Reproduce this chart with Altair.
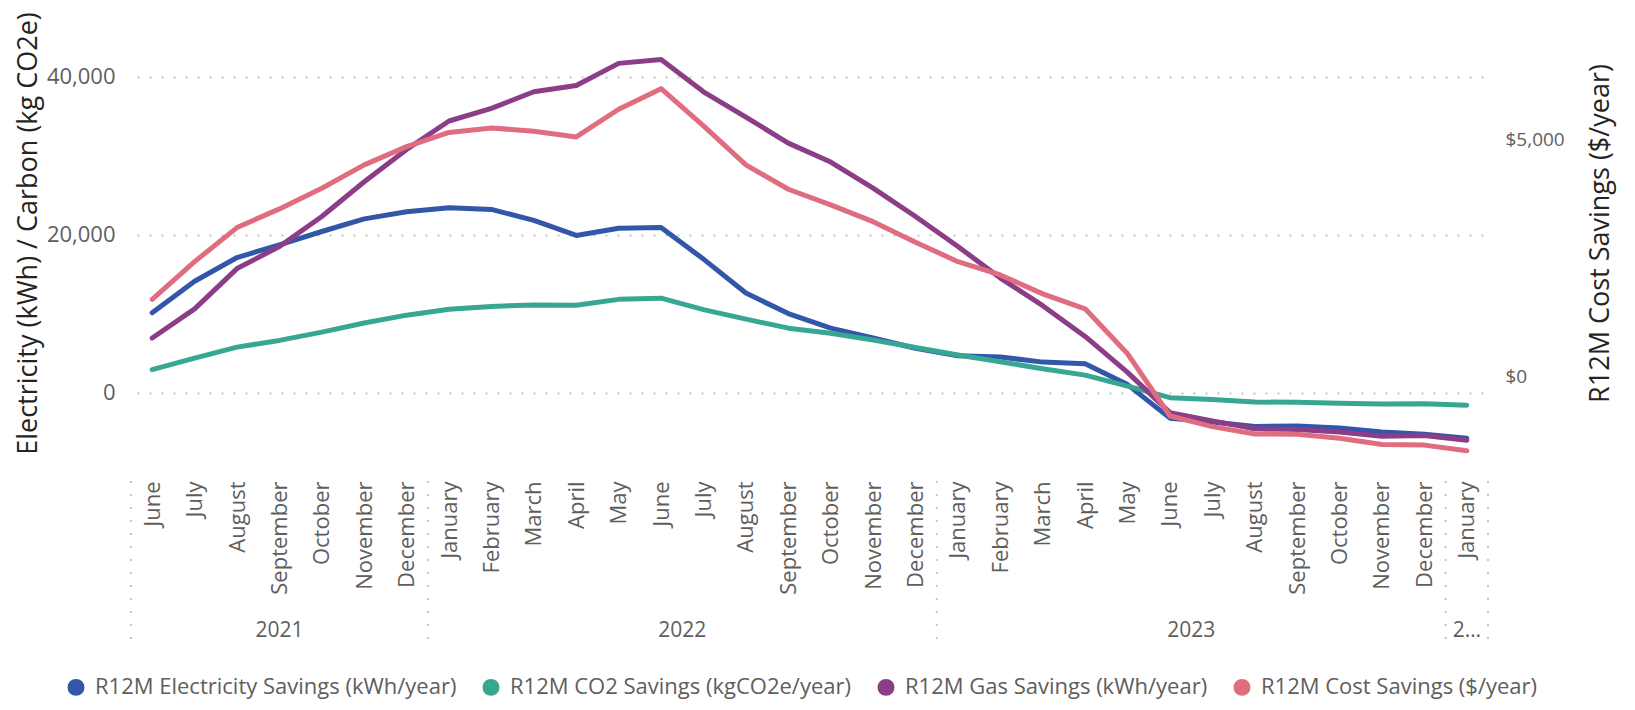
import json
import altair as alt
import pandas as pd

# ---------------- data ----------------
months = ["June", "July", "August", "September", "October", "November", "December",
          "January", "February", "March", "April", "May", "June", "July", "August",
          "September", "October", "November", "December",
          "January", "February", "March", "April", "May", "June", "July", "August",
          "September", "October", "November", "December",
          "January"]
years = ["2021"] * 7 + ["2022"] * 12 + ["2023"] * 12 + ["2024"]
year_labels = {"2021": "2021", "2022": "2022", "2023": "2023", "2024": "2…"}

series_names = ["R12M Electricity Savings (kWh/year)",
                "R12M CO2 Savings (kgCO2e/year)",
                "R12M Gas Savings (kWh/year)",
                "R12M Cost Savings ($/year)"]
series_colors = ["#3257A8", "#37A794", "#8B3D88", "#E06C80"]

electricity = [10100, 14100, 17100, 18700, 20400, 22000, 22900, 23400, 23200, 21800,
               19900, 20800, 20900, 16900, 12600, 10000, 8150, 6900, 5600, 4650,
               4500, 3850, 3650, 1000, -3250, -3750, -4300, -4250, -4500, -5000,
               -5300, -5800]
co2 = [2900, 4350, 5750, 6600, 7650, 8800, 9800, 10550, 10900, 11100,
       11050, 11800, 11950, 10500, 9300, 8150, 7500, 6650, 5700, 4750,
       3900, 3000, 2200, 800, -650, -900, -1200, -1250, -1350, -1450,
       -1430, -1600]
gas = [6900, 10600, 15700, 18500, 22300, 26700, 30800, 34400, 36000, 38100,
       38900, 41700, 42200, 38100, 34900, 31600, 29200, 25900, 22300, 18500,
       14500, 11000, 7100, 2550, -2550, -3600, -4600, -4700, -5000, -5550,
       -5450, -6050]
cost = [1635, 2430, 3150, 3545, 3980, 4475, 4860, 5160, 5255, 5185,
        5065, 5650, 6085, 5300, 4475, 3960, 3630, 3275, 2840, 2430,
        2150, 1750, 1435, 485, -830, -1055, -1210, -1215, -1300, -1430,
        -1445, -1565]

left_ticks = [0, 20000, 40000]
right_ticks = [0, 5000]

# ---------------- tables ----------------
n = len(months)
left_rows = []
for name, vals in zip(series_names[:3], [electricity, co2, gas]):
    for i, v in enumerate(vals):
        left_rows.append({"idx": i, "series": name, "value": v})
left_df = pd.DataFrame(left_rows)
cost_df = pd.DataFrame({"idx": list(range(n)), "series": series_names[3], "cost": cost})
month_df = pd.DataFrame({"idx": list(range(n)), "ylabel": [year_labels[y] for y in years]})
seps = [-0.5] + [i - 0.5 for i in range(1, n) if years[i] != years[i - 1]] + [n - 0.5]
sep_df = pd.DataFrame({"pos": seps})

FONT = "Open Sans"
LABEL_C = "#605E5C"
TITLE_C = "#252423"
GRID_C = "#C8C6C4"
LW = 5

x_scale = alt.Scale(domain=[-0.5, n - 0.5], nice=False, zero=False)
color_scale = alt.Scale(domain=series_names, range=series_colors)
label_expr = json.dumps(months) + "[datum.value]"

x_axis = alt.Axis(values=list(range(n)), labelExpr=label_expr, labelAngle=270,
                  labelAlign="right", labelBaseline="middle",
                  labelFontSize=22, labelColor=LABEL_C, labelFont=FONT,
                  labelPadding=25, ticks=False, domain=False, grid=False,
                  title=None, labelOverlap=False, labelFlush=False, labelBound=False)

legend = alt.Legend(orient="none", legendX=-66, legendY=666,
                    direction="horizontal", title=None,
                    symbolType="circle", symbolSize=72, symbolStrokeWidth=8.5,
                    symbolOpacity=1,
                    labelFontSize=22, labelColor=LABEL_C, labelFont=FONT,
                    labelOffset=8, columnPadding=12, padding=0, labelLimit=800)

left = alt.Chart(left_df).mark_line(strokeWidth=LW, strokeJoin="round", strokeCap="round").encode(
    x=alt.X("idx:Q", scale=x_scale, axis=x_axis),
    y=alt.Y("value:Q",
            scale=alt.Scale(domain=[-8045, 48463], nice=False, zero=False),
            axis=alt.Axis(values=left_ticks, format=",.0f", grid=True, gridDash=[2, 10],
                          gridDashOffset=6, gridColor=GRID_C, gridWidth=2,
                          domain=False, ticks=False, labelFontSize=22,
                          labelColor=LABEL_C, labelFont=FONT, labelPadding=16,
                          title="Electricity (kWh) / Carbon (kg CO2e)",
                          titleFontSize=27, titleColor=TITLE_C, titleFont=FONT,
                          titleFontWeight="normal", titleX=-103, titleY=223,
                          titleAngle=270, titleAlign="center", titleBaseline="middle")),
    color=alt.Color("series:N", scale=color_scale, legend=legend),
)

cost_line = alt.Chart(cost_df).mark_line(strokeWidth=LW, strokeJoin="round", strokeCap="round").encode(
    x=alt.X("idx:Q", scale=x_scale, axis=x_axis),
    y=alt.Y("cost:Q",
            scale=alt.Scale(domain=[-1675, 7746], nice=False, zero=False),
            axis=alt.Axis(orient="right", values=right_ticks, format="$,.0f", grid=False,
                          domain=False, ticks=False, labelFontSize=19,
                          labelColor=LABEL_C, labelFont=FONT, labelPadding=17,
                          title="R12M Cost Savings ($/year)",
                          titleFontSize=27, titleColor=TITLE_C, titleFont=FONT,
                          titleFontWeight="normal", titleX=112, titleY=223,
                          titleAngle=270, titleAlign="center", titleBaseline="middle")),
    color=alt.Color("series:N", scale=color_scale, legend=legend),
)

rules = alt.Chart(sep_df).mark_rule(color=GRID_C, strokeWidth=2, strokeDash=[2, 11]).encode(
    x=alt.X("pos:Q", scale=x_scale, axis=x_axis),
    y=alt.value(471),
    y2=alt.value(640),
)

year_text = alt.Chart(month_df).transform_aggregate(
    lo="min(idx)", hi="max(idx)", groupby=["ylabel"]
).transform_calculate(
    mid="(datum.lo + datum.hi) / 2"
).mark_text(fontSize=21, color=LABEL_C, font=FONT, baseline="middle", align="center").encode(
    x=alt.X("mid:Q", scale=x_scale, axis=x_axis),
    y=alt.value(621),
    text="ylabel:N",
)

chart = alt.layer(left, cost_line, rules, year_text).resolve_scale(
    y="independent"
).properties(
    width=1357, height=446,
    padding={"left": 123, "top": 2, "right": 135, "bottom": 246},
    autosize=alt.AutoSizeParams(type="none"),
    background="white",
).configure(font=FONT).configure_view(stroke=None)

chart.save("out.html", embed_options={"renderer": "svg", "actions": False})
